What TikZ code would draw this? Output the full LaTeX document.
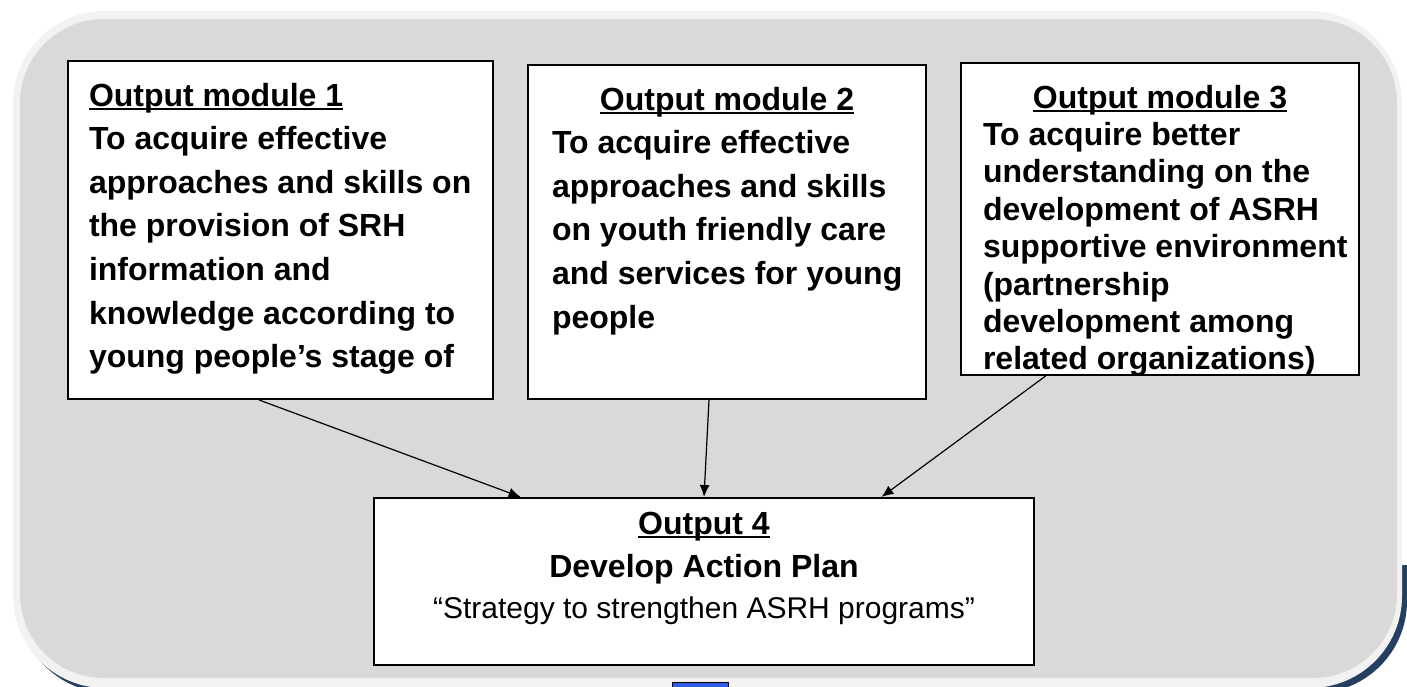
\documentclass[tikz,border=0pt]{standalone}
\usepackage{fontspec}
\setmainfont{Liberation Sans}
\usetikzlibrary{positioning,arrows.meta,calc}

\definecolor{panelgray}{HTML}{D9D9D9}
\definecolor{panelrim}{HTML}{F2F2F2}
\definecolor{panelshadow}{HTML}{243F60}
\definecolor{markblue}{HTML}{2F5DE8}

% underline that runs through the descenders, as in the slide
\newcommand{\titleul}[1]{\setbox0=\hbox{#1}\rlap{\rule[-2.2pt]{\wd0}{1.3pt}}\box0}

\tikzset{
    module/.style = {
        draw,
        shape=rectangle,
        line width=1pt,
        fill=white,
        inner sep=0pt,
        anchor=north west,
        font=\fontsize{16}{21.8}\selectfont\bfseries
    },
    link/.style = {
        draw,
        ->,
        line width=0.6pt
    },
    >={Latex[length=6pt,width=5pt]},
}

\begin{document}
\begin{tikzpicture}[x=0.5pt, y=-0.5pt]
            \useasboundingbox (0,0) rectangle (1407,686);
            \clip (0,0) rectangle (1407,686);

            % panel behind the boxes, shadow only shows low down
            \begin{scope}
                \clip (0,565) rectangle (1407,700);
                \fill[panelshadow, rounded corners=46pt] (18,17) rectangle (1407,693);
            \end{scope}
            \fill[panelrim, rounded corners=46pt] (13,11) rectangle (1402,688);
            \fill[panelgray, rounded corners=42pt] (20,19) rectangle (1397,678);
            \draw[fill=markblue, line width=0.5pt] (672,682) rectangle (728,700);

            \node[module] (mod1) at (67,60) {\parbox[c][169pt][t]{212.5pt}{\parskip=0pt\raggedright\leftskip=10.5pt
                \rule{0pt}{22.5pt}\titleul{Output module 1}\\
                To acquire effective\\
                approaches and skills on\\
                the provision of SRH\\
                information and\\
                knowledge according to\\
                young people’s stage of}};
            \node[module] (mod2) at (527,64) {\parbox[c][167pt][t]{199pt}{\parskip=0pt
                {\centering\rule{0pt}{22.5pt}\titleul{Output module 2}\par}
                \raggedright\leftskip=12pt
                To acquire effective\\
                approaches and skills\\
                on youth friendly care\\
                and services for young\\
                people}};
            \node[module, font=\fontsize{16}{18.7}\selectfont\bfseries] (mod3) at (960,62) {\parbox[c][156pt][t]{199pt}{\parskip=0pt
                {\centering\rule{0pt}{22.5pt}\titleul{Output module 3}\par}
                \raggedright\leftskip=11pt
                To acquire better\\
                understanding on the\\
                development of ASRH\\
                supportive environment\\
                (partnership\\
                development among\\
                related organizations)}};
            \node[module] (plan) at (373,497) {\parbox[c][83.5pt][t]{330pt}{\parskip=0pt\centering
                \rule{0pt}{18pt}\titleul{Output 4}\\
                Develop Action Plan\\[-1.3pt]
                {\fontsize{15}{20}\selectfont\mdseries “Strategy to strengthen ASRH programs”}}};

            \path[link] ($(mod1.south west)!0.45!(mod1.south east)$) -- ($(plan.north west)!0.223!(plan.north east)$);
            \path[link] ($(mod2.south west)!0.455!(mod2.south east)$) -- ($(plan.north west)!0.5!(plan.north east)$);
            \path[link] ($(mod3.south west)!0.214!(mod3.south east)$) -- ($(plan.north west)!0.768!(plan.north east)$);
        \end{tikzpicture}
\end{document}
